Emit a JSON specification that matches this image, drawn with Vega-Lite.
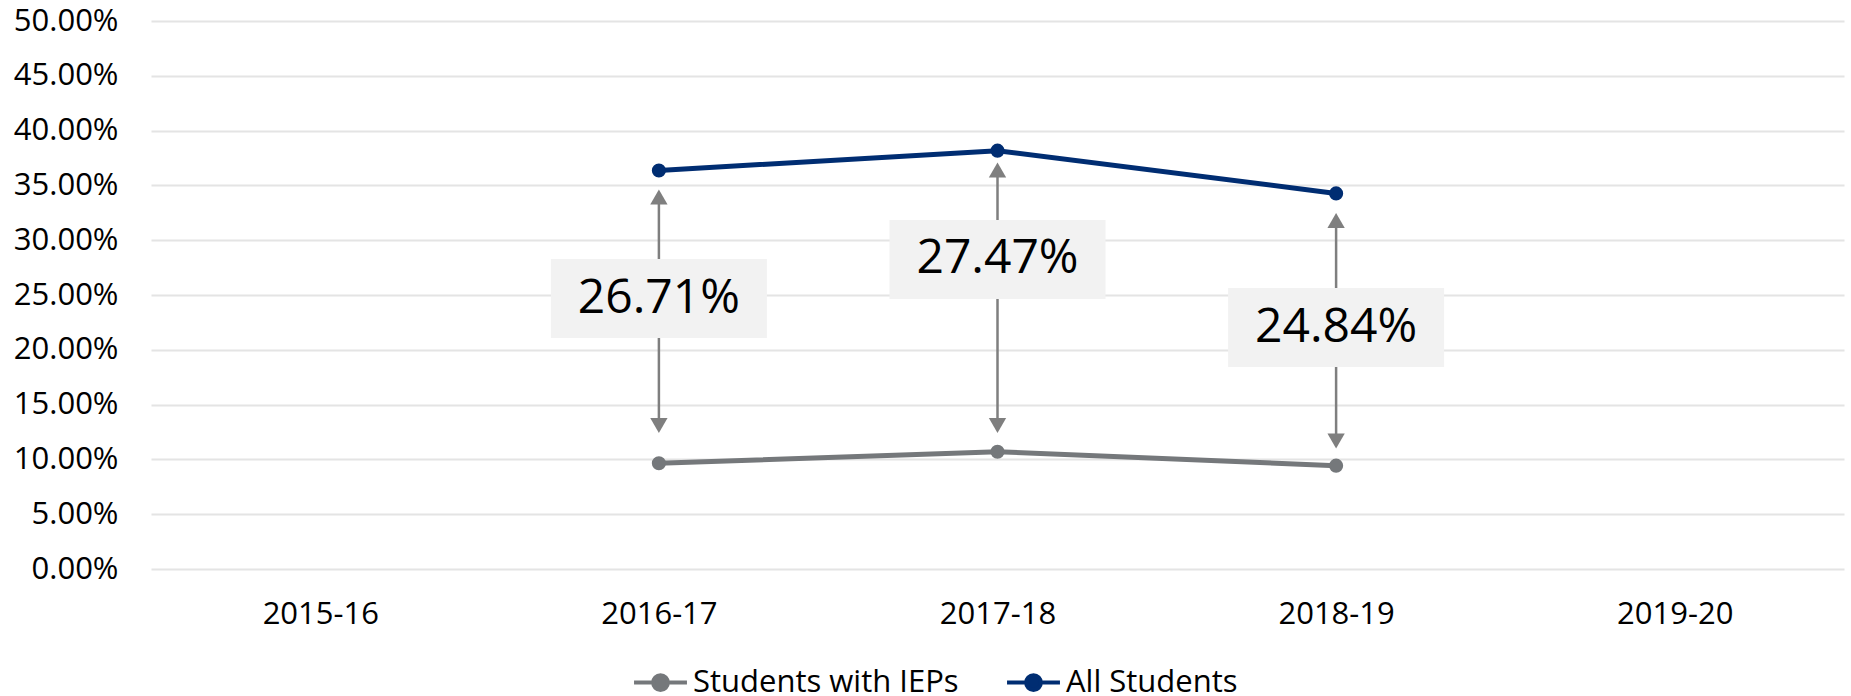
{
  "$schema": "https://vega.github.io/schema/vega-lite/v6.json",
  "width": 1693,
  "height": 548,
  "autosize": {"type": "none"},
  "padding": {"left": 151, "top": 21, "right": 7, "bottom": 127},
  "background": "white",
  "config": {
    "view": {"stroke": null},
    "font": "Open Sans",
    "axis": {"labelFont": "Open Sans", "labelFontSize": 31, "labelColor": "#000000", "domain": false, "ticks": false, "title": null},
    "legend": {"labelFont": "Open Sans", "labelFontSize": 31, "labelColor": "#000000", "labelLimit": 0}
  },
  "datasets": {
    "series": [
      {"year": "2016-17", "group": "Students with IEPs", "value": 0.0965},
      {"year": "2017-18", "group": "Students with IEPs", "value": 0.1070},
      {"year": "2018-19", "group": "Students with IEPs", "value": 0.0943},
      {"year": "2016-17", "group": "All Students", "value": 0.3636},
      {"year": "2017-18", "group": "All Students", "value": 0.3817},
      {"year": "2018-19", "group": "All Students", "value": 0.3427}
    ],
    "gaps": [
      {"year": "2016-17", "ruleTop": 0.3400, "ruleBottom": 0.1300, "headTop": 0.3394, "headBottom": 0.1309, "boxTop": 0.2828, "boxBottom": 0.2108, "labelY": 0.2468, "label": "26.71%"},
      {"year": "2017-18", "ruleTop": 0.3650, "ruleBottom": 0.1300, "headTop": 0.3640, "headBottom": 0.1309, "boxTop": 0.3184, "boxBottom": 0.2464, "labelY": 0.2824, "label": "27.47%"},
      {"year": "2018-19", "ruleTop": 0.3190, "ruleBottom": 0.1170, "headTop": 0.3180, "headBottom": 0.1168, "boxTop": 0.2564, "boxBottom": 0.1843, "labelY": 0.2203, "label": "24.84%"}
    ]
  },
  "layer": [
    {
      "data": {"name": "series"},
      "mark": {"type": "rule", "opacity": 0},
      "encoding": {
        "x": {"field": "year", "type": "nominal", "sort": ["2015-16", "2016-17", "2017-18", "2018-19", "2019-20"],
              "scale": {"type": "point", "padding": 0.5, "domain": ["2015-16", "2016-17", "2017-18", "2018-19", "2019-20"]},
              "axis": {"labelPadding": 30, "labelAngle": 0, "grid": false}},
        "y": {"field": "value", "type": "quantitative",
              "scale": {"domain": [0, 0.5], "nice": false, "zero": true},
              "axis": {"format": ".2%", "values": [0, 0.05, 0.1, 0.15, 0.2, 0.25, 0.3, 0.35, 0.4, 0.45, 0.5], "grid": true, "gridColor": "#E4E4E4", "gridWidth": 2, "labelPadding": 33}}
      }
    },
    {
      "data": {"name": "gaps"},
      "mark": {"type": "rule", "color": "#7F7F7F", "strokeWidth": 2.5},
      "encoding": {
        "x": {"field": "year", "type": "nominal"},
        "y": {"field": "ruleTop", "type": "quantitative"},
        "y2": {"field": "ruleBottom"}
      }
    },
    {
      "data": {"name": "gaps"},
      "mark": {"type": "point", "shape": "triangle-up", "filled": true, "color": "#7F7F7F", "size": 300, "opacity": 1},
      "encoding": {
        "x": {"field": "year", "type": "nominal"},
        "y": {"field": "headTop", "type": "quantitative"}
      }
    },
    {
      "data": {"name": "gaps"},
      "mark": {"type": "point", "shape": "triangle-down", "filled": true, "color": "#7F7F7F", "size": 300, "opacity": 1},
      "encoding": {
        "x": {"field": "year", "type": "nominal"},
        "y": {"field": "headBottom", "type": "quantitative"}
      }
    },
    {
      "data": {"name": "gaps"},
      "mark": {"type": "bar", "width": 216, "color": "#F2F2F2"},
      "encoding": {
        "x": {"field": "year", "type": "nominal"},
        "y": {"field": "boxTop", "type": "quantitative"},
        "y2": {"field": "boxBottom"}
      }
    },
    {
      "data": {"name": "gaps"},
      "mark": {"type": "text", "fontSize": 48, "font": "Open Sans", "color": "#000000", "align": "center", "baseline": "middle"},
      "encoding": {
        "x": {"field": "year", "type": "nominal"},
        "y": {"field": "labelY", "type": "quantitative"},
        "text": {"field": "label"}
      }
    },
    {
      "data": {"name": "series"},
      "mark": {"type": "line", "strokeWidth": 5, "point": {"filled": true, "size": 200, "opacity": 1}},
      "encoding": {
        "x": {"field": "year", "type": "nominal"},
        "y": {"field": "value", "type": "quantitative"},
        "color": {"field": "group", "type": "nominal",
                  "scale": {"domain": ["Students with IEPs", "All Students"], "range": ["#75787B", "#002D72"]},
                  "legend": {"title": null, "orient": "none", "direction": "horizontal", "legendX": 481, "legendY": 633,
                             "symbolType": "M -1 0 L -0.28 0 M 0.28 0 L 1 0 M -0.28 0 A 0.28 0.28 0 1 1 0.28 0 A 0.28 0.28 0 1 1 -0.28 0 Z",
                             "symbolSize": 2800, "symbolStrokeWidth": 4, "symbolOpacity": 1, "labelOffset": 4, "columnPadding": 40}}
      }
    }
  ]
}
